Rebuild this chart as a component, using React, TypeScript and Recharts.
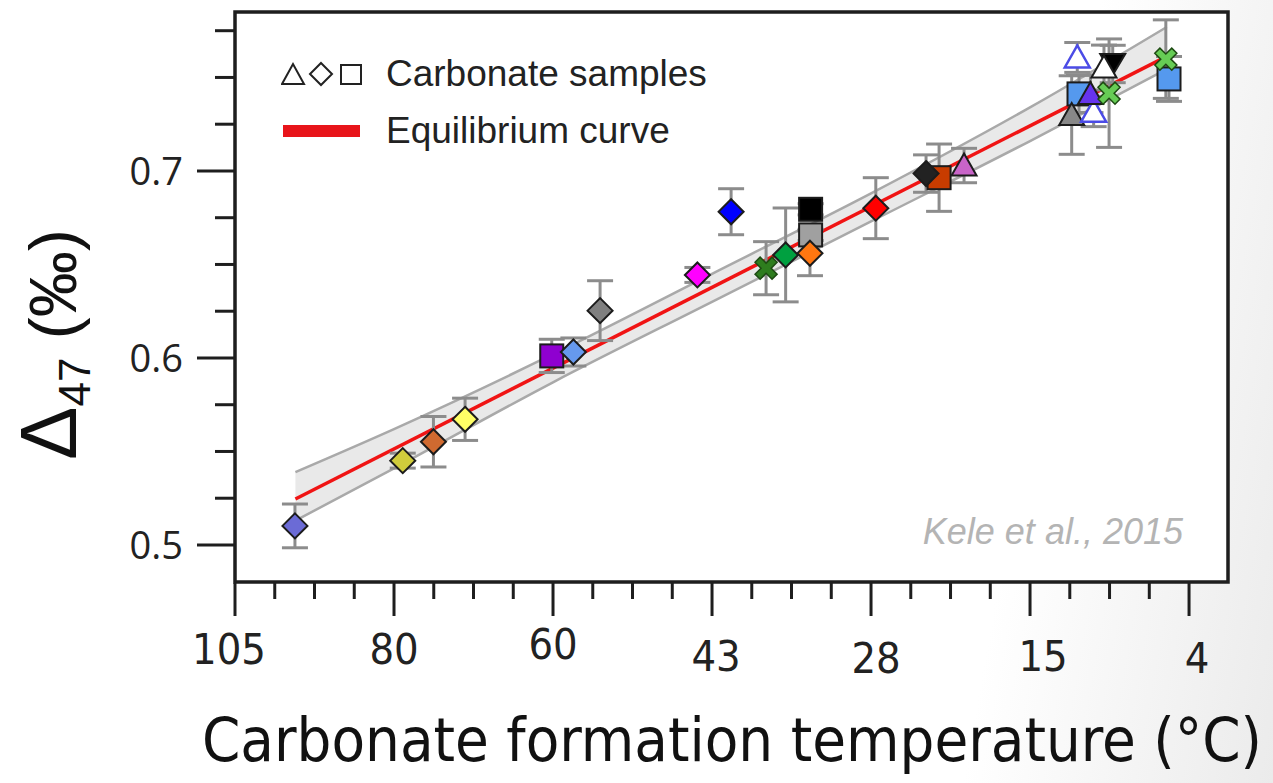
import React from 'react'
import {
  Area,
  CartesianGrid,
  ComposedChart,
  ErrorBar,
  Label,
  Legend,
  Line,
  ReferenceArea,
  Scatter,
  XAxis,
  YAxis,
} from 'recharts'

// x axis is 10^6/T^2 (T in K); ticks are labelled with the matching temperature in °C
const TEMP_TICKS = [7, 8, 9, 10, 11, 12, 13]
const TEMP_LABELS = ['105', '80', '60', '43', '28', '15', '4']
const D47_MAJOR = [0.5, 0.6, 0.7]
const D47_TICKS = [0.5, 0.525, 0.55, 0.575, 0.6, 0.625, 0.65, 0.675, 0.7, 0.725, 0.75, 0.775]

// equilibrium curve and its confidence band
const FIT_X = [7.38, 12.86]
const FIT_Y = [0.5246, 0.7613]
const BAND_X = [7.38, 8, 9, 10, 11, 12, 12.86]
const BAND_HI = [0.539, 0.562, 0.602, 0.645, 0.688, 0.734, 0.777]
const BAND_LO = [0.513, 0.541, 0.587, 0.63, 0.673, 0.716, 0.7545]

// carbonate samples
const SAMPLE_X = [
  7.377, 8.055, 8.248, 8.447, 8.992, 9.128, 9.296, 9.908, 10.12, 10.34, 10.463, 10.62, 10.62,
  10.616, 11.03, 11.428, 11.346, 11.585, 12.297, 12.308, 12.262, 12.4, 12.38, 12.52, 12.465,
  12.497, 12.874, 12.854,
]
const SAMPLE_Y = [
  0.5102, 0.5451, 0.5552, 0.5672, 0.6011, 0.6032, 0.6253, 0.6444, 0.6782, 0.648, 0.6551, 0.6795,
  0.6658, 0.656, 0.6801, 0.6964, 0.6986, 0.7029, 0.7607, 0.7412, 0.7299, 0.7317, 0.7412, 0.7572,
  0.7553, 0.7416, 0.7492, 0.7598,
]
const SAMPLE_ERR = [
  0.0117, 0.004, 0.0135, 0.0113, 0.0089, 0.0075, 0.016, 0.004, 0.0123, 0.0142, 0.0251, 0.003,
  0.003, 0.012, 0.0163, 0.018, 0.01, 0.0092, 0.008, 0.01, 0.021, 0.008, 0.01, 0.01, 0.012, 0.029,
  0.012, 0.021,
]
const SAMPLE_MARK = [
  'diamond', 'diamond', 'diamond', 'diamond', 'square', 'diamond', 'diamond', 'diamond', 'diamond',
  'cross', 'diamond', 'square', 'square', 'diamond', 'diamond', 'square', 'diamond', 'triUp',
  'triUp', 'square', 'triUp', 'triUp', 'triUp', 'triDown', 'triUp', 'cross', 'square', 'cross',
]

// marker colours (fill, edge)
const SAMPLE_FILL = [
  '#6b6bd6', '#d0cc3c', '#d06a30', '#ffff66', '#8f00d0', '#6699ee', '#808080', '#ff00ff', '#0000ff',
  '#2e7d1e', '#00a040', '#000000', '#a0a0a0', '#ff7711', '#ff0000', '#c83c00', '#222222', '#c864c8',
  '#ffffff', '#5599ee', '#888888', '#ffffff', '#6633ee', '#000000', '#ffffff', '#66cc55', '#5599ee',
  '#66cc55',
]
const SAMPLE_EDGE = [
  '#1c1c1c', '#1c1c1c', '#1c1c1c', '#1c1c1c', '#1c1c1c', '#1c1c1c', '#1c1c1c', '#1c1c1c', '#1c1c1c',
  '#1d4a12', '#1c1c1c', '#1c1c1c', '#1c1c1c', '#1c1c1c', '#1c1c1c', '#1c1c1c', '#1c1c1c', '#1c1c1c',
  '#4b4be6', '#1c1c1c', '#1c1c1c', '#4b4be6', '#1c1c1c', '#1c1c1c', '#1c1c1c', '#1d4a12', '#1c1c1c',
  '#1d4a12',
]

const X_DOMAIN = [7, 13.245]
const Y_DOMAIN = [0.4802, 0.785]

// small nudges so the temperature labels sit like the original
const TEMP_NUDGE = [
  [-6, 0],
  [0, 0],
  [0, -5],
  [4, 7],
  [5, 9],
  [13, 7],
  [8, 9],
]

const fitData = FIT_X.map((x, i) => ({ x, y: FIT_Y[i] }))
const bandData = BAND_X.map((x, i) => ({ x, band: [BAND_LO[i], BAND_HI[i]] }))
const samples = SAMPLE_X.map((x, i) => ({
  x,
  y: SAMPLE_Y[i],
  err: SAMPLE_ERR[i],
  mark: SAMPLE_MARK[i],
  fill: SAMPLE_FILL[i],
  edge: SAMPLE_EDGE[i],
}))

const xTicks: number[] = []
for (let v = 7; v <= 13.001; v += 0.25) xTicks.push(Math.round(v * 100) / 100)

const narrow = "'Liberation Sans Narrow', 'Arial Narrow', 'DejaVu Sans Condensed', sans-serif"
const sans = "'Liberation Sans', Arial, sans-serif"

const crossPoints = (cx: number, cy: number, L: number, t: number) => {
  const base = [
    [t, -L], [t, -t], [L, -t], [L, t], [t, t], [t, L],
    [-t, L], [-t, t], [-L, t], [-L, -t], [-t, -t], [-t, -L],
  ]
  const c = Math.SQRT1_2
  return base.map(([a, b]) => `${cx + (a - b) * c},${cy + (a + b) * c}`).join(' ')
}

const Marker = (props: any) => {
  const { cx, cy, payload } = props
  if (cx == null || cy == null) return null
  const { mark, fill, edge } = payload
  const open = fill === '#ffffff' && edge !== '#1c1c1c'
  const sw = open ? 2.5 : 2
  if (mark === 'diamond') {
    const r = 12.5
    return (
      <polygon
        points={`${cx},${cy - r} ${cx + r},${cy} ${cx},${cy + r} ${cx - r},${cy}`}
        fill={fill}
        stroke={edge}
        strokeWidth={sw}
      />
    )
  }
  if (mark === 'square') {
    const h = 11.5
    return <rect x={cx - h} y={cy - h} width={2 * h} height={2 * h} fill={fill} stroke={edge} strokeWidth={sw} />
  }
  if (mark === 'triUp') {
    return (
      <polygon
        points={`${cx},${cy - 12} ${cx + 12.5},${cy + 10} ${cx - 12.5},${cy + 10}`}
        fill={fill}
        stroke={edge}
        strokeWidth={sw}
      />
    )
  }
  if (mark === 'triDown') {
    return (
      <polygon
        points={`${cx},${cy + 11} ${cx + 12.5},${cy - 10} ${cx - 12.5},${cy - 10}`}
        fill={fill}
        stroke={edge}
        strokeWidth={sw}
      />
    )
  }
  return <polygon points={crossPoints(cx, cy, 12, 3.6)} fill={fill} stroke={edge} strokeWidth={1.5} />
}

const YTick = ({ x, y, payload }: any) => {
  const v = payload.value
  const major = D47_MAJOR.some((m) => Math.abs(m - v) < 1e-6)
  return (
    <g>
      <line x1={x - (major ? 38 : 20)} x2={x - 1} y1={y} y2={y} stroke="#1e1e1e" strokeWidth={3} />
      {major && (
        <text x={x - 52} y={y} dy="0.36em" textAnchor="end" fontFamily="'Open Sans', sans-serif" fontSize={38} fill="#222">
          {v.toFixed(1)}
        </text>
      )}
    </g>
  )
}

const XTick = ({ x, y, payload }: any) => {
  const v = payload.value
  const idx = TEMP_TICKS.findIndex((t) => Math.abs(t - v) < 1e-6)
  const major = idx >= 0
  return (
    <g>
      <line x1={x} x2={x} y1={y + 1} y2={y + (major ? 34 : 17)} stroke="#1e1e1e" strokeWidth={3} />
      {major && (
        <text
          x={x + TEMP_NUDGE[idx][0]}
          y={y + 82 + TEMP_NUDGE[idx][1]}
          textAnchor="middle"
          fontFamily={narrow}
          fontSize={43}
          fill="#222"
        >
          {TEMP_LABELS[idx]}
        </text>
      )}
    </g>
  )
}

const LegendBox = () => (
  <div style={{ fontFamily: sans, fontSize: 37, color: '#222', lineHeight: '57px' }}>
    <div style={{ display: 'flex', alignItems: 'center' }}>
      <svg width={82} height={26}>
        <polygon points="1,23 12,3 23,23" fill="none" stroke="#222" strokeWidth={2} />
        <polygon points="40,2 51,13 40,24 29,13" fill="none" stroke="#222" strokeWidth={2} />
        <rect x={60} y={4} width={20} height={19} fill="none" stroke="#222" strokeWidth={2} />
      </svg>
      <span style={{ marginLeft: 23 }}>Carbonate samples</span>
    </div>
    <div style={{ display: 'flex', alignItems: 'center' }}>
      <svg width={82} height={14}>
        <rect x={2} y={1} width={77} height={12} fill="#e8141a" />
      </svg>
      <span style={{ marginLeft: 23 }}>Equilibrium curve</span>
    </div>
  </div>
)

const YTitle = () => (
  <text transform="translate(76,460) rotate(-90)" fontFamily={sans} fontSize={80} fill="#111">
    Δ
    <tspan fontSize={44} dy={14}>
      47
    </tspan>
    <tspan fontSize={66} dy={-14}>
      {' (‰)'}
    </tspan>
  </text>
)

const XTitle = () => (
  <text
    x={732}
    y={761}
    textAnchor="middle"
    fontFamily={narrow}
    fontSize={60}
    fill="#111"
    textLength={1060}
    lengthAdjust="spacingAndGlyphs"
  >
    Carbonate formation temperature (°C)
  </text>
)

const Citation = ({ viewBox }: any) => (
  <text
    x={viewBox.x + viewBox.width - 45}
    y={viewBox.y + viewBox.height - 38}
    textAnchor="end"
    fontFamily={sans}
    fontStyle="italic"
    fontSize={36}
    fill="#b4b4b4"
  >
    Kele et al., 2015
  </text>
)

export default function App() {
  return (
    <div
      style={{
        position: 'absolute',
        left: 0,
        top: 0,
        width: 1273,
        height: 783,
        background: 'linear-gradient(100deg, #ffffff 78%, #ebebeb 100%)',
      }}
    >
      <ComposedChart width={1273} height={783} margin={{ top: 12, right: 45, left: 0, bottom: 0 }}>
        <CartesianGrid horizontal={false} vertical={false} fill="#ffffff" />
        <XAxis
          type="number"
          dataKey="x"
          domain={X_DOMAIN}
          allowDataOverflow
          ticks={xTicks}
          interval={0}
          tick={<XTick />}
          tickSize={0}
          tickMargin={0}
          tickLine={false}
          axisLine={false}
          height={201}
        >
          <Label content={<XTitle />} />
        </XAxis>
        <YAxis
          type="number"
          domain={Y_DOMAIN}
          allowDataOverflow
          ticks={D47_TICKS}
          interval={0}
          tick={<YTick />}
          tickSize={0}
          tickMargin={0}
          tickLine={false}
          axisLine={false}
          width={235}
        >
          <Label content={<YTitle />} />
        </YAxis>
        <Legend
          content={<LegendBox />}
          layout="horizontal"
          verticalAlign="middle"
          align="center"
          wrapperStyle={{ top: 45, left: 281, width: 520, height: 114 }}
        />
        <Area
          data={bandData}
          dataKey="band"
          type="monotone"
          fill="#e9e9e9"
          fillOpacity={1}
          stroke="#a9a9a9"
          strokeWidth={2.5}
          isAnimationActive={false}
          legendType="none"
        />
        <Line
          data={fitData}
          dataKey="y"
          type="linear"
          stroke="#f01414"
          strokeWidth={3.5}
          dot={false}
          isAnimationActive={false}
        />
        <Scatter data={samples} dataKey="y" shape={<Marker />} isAnimationActive={false}>
          <ErrorBar dataKey="err" direction="y" width={13} stroke="#8c8c8c" strokeWidth={3} />
        </Scatter>
        <ReferenceArea
          x1={X_DOMAIN[0]}
          x2={X_DOMAIN[1]}
          y1={Y_DOMAIN[0]}
          y2={Y_DOMAIN[1]}
          fill="none"
          stroke="#1e1e1e"
          strokeWidth={3.5}
          ifOverflow="visible"
        >
          <Label content={<Citation />} />
        </ReferenceArea>
      </ComposedChart>
    </div>
  )
}
